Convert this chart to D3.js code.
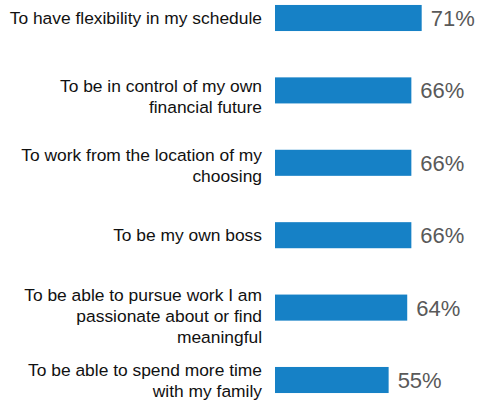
<!DOCTYPE html>
<html>
<head>
<meta charset="utf-8">
<script src="https://cdn.jsdelivr.net/npm/d3@7"></script>
<style>
  html, body { margin: 0; padding: 0; background: #ffffff; }
  svg { display: block; }
</style>
</head>
<body>
<svg id="chart" width="478" height="400"></svg>
<script>
// Reasons for choosing independent work, share of respondents (%)
const categories = [
  ["To have flexibility in my schedule"],
  ["To be in control of my own", "financial future"],
  ["To work from the location of my", "choosing"],
  ["To be my own boss"],
  ["To be able to pursue work I am", "passionate about or find", "meaningful"],
  ["To be able to spend more time", "with my family"]
];
const values = [71, 66, 66, 66, 64, 55];
const valueLabels = ["71%", "66%", "66%", "66%", "64%", "55%"];

const svg = d3.select("#chart");
const barLeft = 275;
const labelRight = 262;
const lineHeight = 21.2;
// small vertical offsets applied to the wrapped category labels
const labelShift = [0, 6, 2.5, 0, 8, 0];

const keys = categories.map((c, i) => i);

const x = d3.scaleLinear().domain([0, 100]).range([barLeft, barLeft + 206.6]);
const y = d3.scaleBand()
  .domain(keys)
  .range([-18.2, 416.2])
  .paddingInner(0.64)
  .paddingOuter(0.32);

const rows = svg.selectAll("g.row")
  .data(keys)
  .join("g")
  .attr("class", "row");

rows.append("rect")
  .attr("x", x(0))
  .attr("y", i => y(i))
  .attr("width", i => x(values[i]) - x(0))
  .attr("height", y.bandwidth())
  .attr("fill", "#1681c6");

rows.append("text")
  .attr("x", i => x(values[i]) + 9)
  .attr("y", i => y(i) + y.bandwidth() / 2)
  .attr("dy", "0.36em")
  .attr("font-family", "'Liberation Sans', Arial, sans-serif")
  .attr("font-size", 22)
  .attr("fill", "#595959")
  .text(i => valueLabels[i]);

const labels = rows.append("text")
  .attr("text-anchor", "end")
  .attr("font-family", "'Liberation Sans', Arial, sans-serif")
  .attr("font-size", 17.4)
  .attr("fill", "#111111");

labels.each(function (i) {
  const lines = categories[i];
  const cy = y(i) + y.bandwidth() / 2 + labelShift[i];
  d3.select(this).selectAll("tspan")
    .data(lines)
    .join("tspan")
    .attr("x", labelRight)
    .attr("y", (d, k) => cy + (k - (lines.length - 1) / 2) * lineHeight)
    .attr("dy", "0.36em")
    .text(d => d);
});
</script>
</body>
</html>
